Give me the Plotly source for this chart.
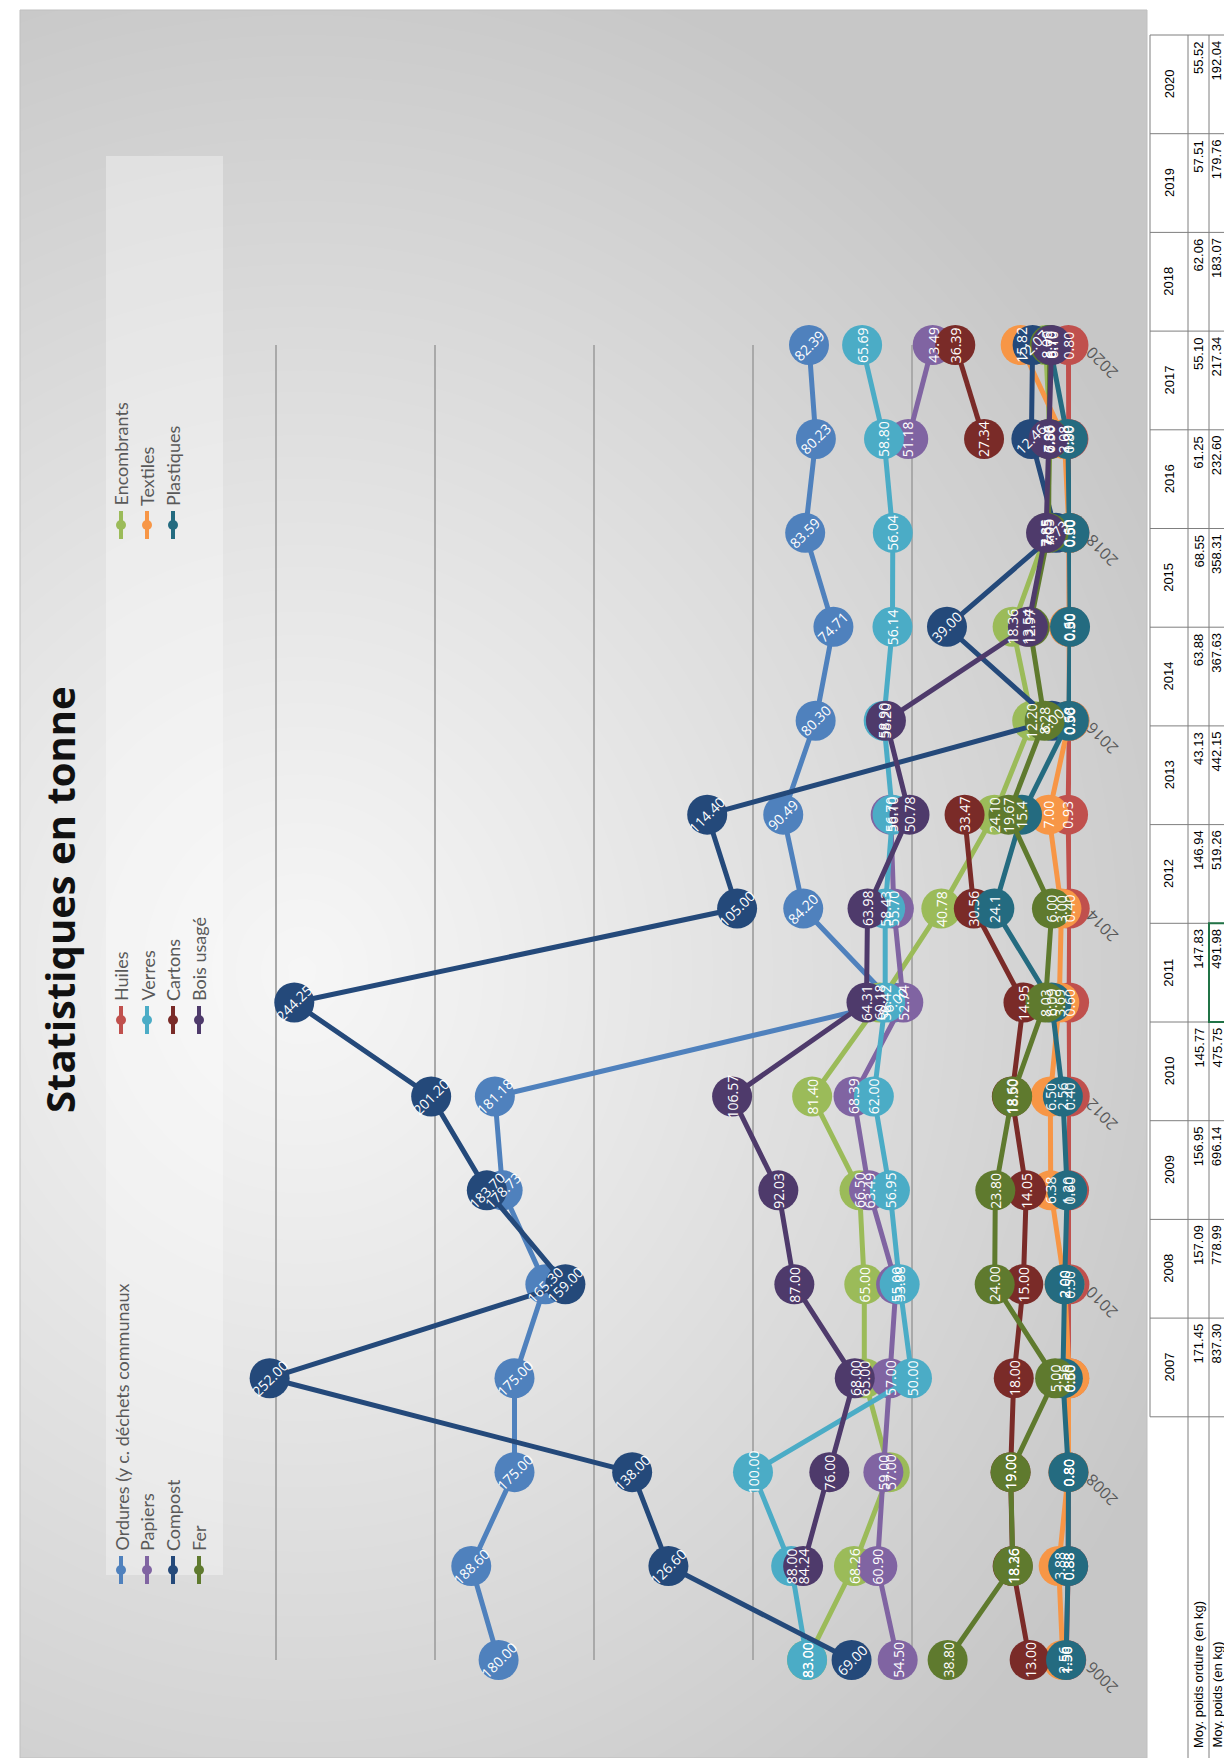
import numpy as np
import plotly.graph_objects as go

W, H = 1224, 1758

years = list(range(2006, 2021))
tick_years = list(range(2006, 2021, 2))

ordures = [180.00, 188.60, 175.00, 175.00, 165.30, 178.73, 181.18, 56.00, 84.20, 90.49, 80.30, 74.71, 83.59, 80.23, 82.39]
huiles = [1.50, 0.88, 0.80, 0.60, 0.50, 0.60, 0.40, 0.60, 0.40, 0.93, 0.50, 0.50, 0.50, 0.80, 0.80]
encombrants = [83.00, 68.26, 57.00, 65.00, 65.00, 66.50, 81.40, 60.18, 40.78, 24.10, 12.20, 18.36, 7.65, 6.50, 8.00]
papiers = [54.50, 60.90, 59.00, 57.00, 55.00, 63.49, 68.39, 52.74, 55.70, 56.70, None, None, None, 51.18, 43.49]
verres = [83.00, 88.00, 100.00, 50.00, 53.88, 56.95, 62.00, 58.42, 58.43, 56.10, 58.90, 56.14, 56.04, 58.80, 65.69]
textiles = [2.56, 3.88, 0.80, 0.50, 2.00, 6.38, 6.50, 3.69, 3.00, 7.00, 0.50, 0.60, 0.60, 2.08, 15.82]
compost = [69.00, 126.60, 138.00, 252.00, 159.00, 183.70, 201.20, 244.25, 105.00, 114.40, 6.00, 39.00, 4.73, 12.46, 12.07]
cartons = [13.00, 18.36, 19.00, 18.00, 15.00, 14.05, 18.60, 14.95, 30.56, 33.47, None, None, None, 27.34, 36.39]
plastiques = [1.56, 0.88, 0.80, 2.56, 2.00, 1.20, 2.56, 6.09, 24.1, 15.4, 0.68, 0.30, 0.50, 1.00, 6.70]
fer = [38.80, 18.26, 19.00, 5.00, 24.00, 23.80, 18.50, 8.03, 6.00, 19.67, 8.28, 12.97, 7.05, 6.88, 6.70]
bois = [None, 84.24, 76.00, 68.00, 87.00, 92.03, 106.57, 64.31, 63.98, 50.78, 58.20, 13.54, 7.85, 7.06, 6.10]

series = [
    ("Ordures (y c. déchets communaux", ordures, "#4F81BD", -45),
    ("Huiles", huiles, "#C0504D", -90),
    ("Encombrants", encombrants, "#9BBB59", -90),
    ("Papiers", papiers, "#8064A2", -90),
    ("Verres", verres, "#4BACC6", -90),
    ("Textiles", textiles, "#F79646", -90),
    ("Compost", compost, "#24497A", -45),
    ("Cartons", cartons, "#7A2B28", -90),
    ("Plastiques", plastiques, "#246B80", -90),
    ("Fer", fer, "#5F7A2E", -90),
    ("Bois usagé", bois, "#4E3A6B", -90),
]
label_short = {("Plastiques", 2014), ("Plastiques", 2015)}

legend_rows = [
    ["Ordures (y c. déchets communaux", "Huiles", "Encombrants"],
    ["Papiers", "Verres", "Textiles"],
    ["Compost", "Cartons", "Plastiques"],
    ["Fer", "Bois usagé"],
]

table_years = list(range(2007, 2021))
table_row1_label = "Moy. poids ordure (en kg)"
table_row1 = [171.45, 157.09, 156.95, 145.77, 147.83, 146.94, 43.13, 63.88, 68.55, 61.25, 55.10, 62.06, 57.51, 55.52]
table_row2_label = "Moy. poids (en kg)"
table_row2 = [837.30, 778.99, 696.14, 475.75, 491.98, 519.26, 442.15, 367.63, 358.31, 232.60, 217.34, 183.07, 179.76, 192.04]

title_text = "Statistiques en tonne"


def px(x):
    return x / W


def py(y):
    return 1 - y / H


fig = go.Figure()

BX0, BX1, BY0, BY1 = 20, 1147, 10, 1758
nx, ny = 80, 120
u = np.linspace(0, 1, nx)
v = np.linspace(0, 1, ny)
U, V = np.meshgrid(u, v)
vt = 1 - V
d = np.sqrt(((U - 0.25) / 0.85) ** 2 + ((vt - 0.55) / 0.6) ** 2)
Z = 1 - np.clip(d, 0, 1) ** 1.1
fig.add_trace(go.Heatmap(x=u, y=v, z=Z, zmin=0, zmax=1, showscale=False,
                         colorscale=[[0, "#c7c7c7"], [1, "#f6f6f6"]],
                         zsmooth="best", hoverinfo="skip", xaxis="x", yaxis="y"))

annotations = []
for name, vals, col, ang in series:
    fig.add_trace(go.Scatter(
        x=vals, y=years, mode="lines+markers", name=name,
        line=dict(color=col, width=5),
        marker=dict(size=40, color=col),
        connectgaps=False, cliponaxis=False, showlegend=False,
        xaxis="x2", yaxis="y2", hoverinfo="x+y+name"))
for name, vals, col, ang in series:
    for yr, val in zip(years, vals):
        if val is None:
            continue
        txt = f"{val:.1f}" if (name, yr) in label_short else f"{val:.2f}"
        annotations.append(dict(
            x=val, y=yr, xref="x2", yref="y2", text=txt, showarrow=False,
            textangle=ang, xanchor="center", yanchor="middle",
            font=dict(family="Open Sans", size=14, color="white")))

for yr in tick_years:
    annotations.append(dict(
        x=1102 / W, y=yr, xref="paper", yref="y2", yshift=-18, text=str(yr),
        showarrow=False, textangle=-135, xanchor="center", yanchor="middle",
        font=dict(family="Open Sans", size=16, color="#595959")))

shapes = []
shapes.append(dict(type="rect", xref="paper", yref="paper",
                   x0=px(BX0), x1=px(BX1), y0=py(BY1), y1=py(BY0),
                   line=dict(color="#bfbfbf", width=1), fillcolor="rgba(0,0,0,0)", layer="above"))
shapes.append(dict(type="rect", xref="paper", yref="paper",
                   x0=px(106), x1=px(223), y0=py(1575), y1=py(156),
                   line=dict(width=0), fillcolor="rgba(255,255,255,0.35)", layer="above"))

colmap = {s[0]: s[2] for s in series}
row_x = [121, 147, 173, 199]
col_y = [1570, 1020, 525]
for ri, row in enumerate(legend_rows):
    for ci, nm in enumerate(row):
        cx, cy = row_x[ri], col_y[ci]
        c = colmap[nm]
        shapes.append(dict(type="line", xref="paper", yref="paper",
                           x0=px(cx), x1=px(cx), y0=py(cy + 14), y1=py(cy - 14),
                           line=dict(color=c, width=4), layer="above"))
        shapes.append(dict(type="circle", xref="paper", yref="paper",
                           x0=px(cx - 5), x1=px(cx + 5), y0=py(cy + 5), y1=py(cy - 5),
                           line=dict(color=c, width=0), fillcolor=c, layer="above"))
        annotations.append(dict(
            x=px(cx), y=py(cy - 17), xref="paper", yref="paper", text=nm,
            showarrow=False, textangle=-90, xanchor="center", yanchor="bottom",
            font=dict(family="Lato", size=18, color="#595959")))

annotations.append(dict(x=px(60), y=py(900), xref="paper", yref="paper",
                        text="<b>" + title_text + "</b>", showarrow=False, textangle=-90,
                        xanchor="center", yanchor="middle",
                        font=dict(family="Open Sans", size=40, color="#111111")))

# ---- table (rotated, partly cut at the right edge) ----
TX0, TX1, TX2 = 1150, 1188, 1209
TOP = 35
STEP = 98.7
n = len(table_years)
bottom_cells = TOP + n * STEP
tfont = dict(family="Liberation Sans Narrow, Liberation Sans, Arial", size=13, color="black")
shapes.append(dict(type="line", xref="paper", yref="paper", x0=px(TX0), x1=px(TX0),
                   y0=py(TOP), y1=py(bottom_cells), line=dict(color="#7f7f7f", width=1)))
for xx in (TX1, TX2):
    shapes.append(dict(type="line", xref="paper", yref="paper", x0=px(xx), x1=px(xx),
                       y0=py(TOP), y1=py(H), line=dict(color="#7f7f7f", width=1)))
for k in range(n + 1):
    yy = TOP + k * STEP
    shapes.append(dict(type="line", xref="paper", yref="paper", x0=px(TX0), x1=1,
                       y0=py(yy), y1=py(yy), line=dict(color="#7f7f7f", width=1)))
R1C = (TX1 + TX2) / 2
R2C = 1216.5
for i, yr in enumerate(table_years):
    k = (2020 - yr)
    ctr = TOP + (k + 0.5) * STEP
    cell_top = TOP + k * STEP
    annotations.append(dict(x=px((TX0 + TX1) / 2), y=py(ctr), xref="paper", yref="paper",
                            text=str(yr), showarrow=False, textangle=-90,
                            xanchor="center", yanchor="middle", font=tfont))
    annotations.append(dict(x=px(R1C), y=py(cell_top + 4), xref="paper", yref="paper",
                            text=f"{table_row1[i]:.2f}", showarrow=False, textangle=-90,
                            xanchor="center", yanchor="top", font=tfont))
    annotations.append(dict(x=px(R2C), y=py(cell_top + 4), xref="paper", yref="paper",
                            text=f"{table_row2[i]:.2f}", showarrow=False, textangle=-90,
                            xanchor="center", yanchor="top", font=tfont))
annotations.append(dict(x=px(R1C), y=py(H - 8), xref="paper", yref="paper",
                        text=table_row1_label, showarrow=False, textangle=-90,
                        xanchor="center", yanchor="bottom", font=tfont))
annotations.append(dict(x=px(R2C), y=py(H - 8), xref="paper", yref="paper",
                        text=table_row2_label, showarrow=False, textangle=-90,
                        xanchor="center", yanchor="bottom", font=tfont))
k = 2020 - 2011
shapes.append(dict(type="rect", xref="paper", yref="paper", x0=px(TX2), x1=px(1226),
                   y0=py(TOP + (k + 1) * STEP), y1=py(TOP + k * STEP),
                   line=dict(color="#217346", width=2)))

fig.update_layout(
    width=W, height=H,
    margin=dict(l=0, r=0, t=0, b=0),
    paper_bgcolor="white", plot_bgcolor="rgba(0,0,0,0)",
    xaxis=dict(domain=[px(BX0), px(BX1)], range=[0, 1], visible=False, fixedrange=True),
    yaxis=dict(domain=[py(BY1), py(BY0)], range=[0, 1], visible=False, fixedrange=True),
    xaxis2=dict(domain=[px(117), px(1071)], range=[300, 0], dtick=50, showgrid=True,
                gridcolor="#a9a9a9", gridwidth=1.5, showticklabels=False, zeroline=False,
                showline=False, anchor="y2"),
    yaxis2=dict(domain=[py(1660), py(345)], range=[2006, 2020], dtick=2, side="right",
                anchor="x2", showgrid=False, zeroline=False, showline=False, ticks="",
                showticklabels=False),
    shapes=shapes,
    annotations=annotations,
    showlegend=False,
)

fig.write_html("out.html", config={"displayModeBar": False},
               post_script="document.body.style.margin='0px';document.body.style.overflow='hidden';")
